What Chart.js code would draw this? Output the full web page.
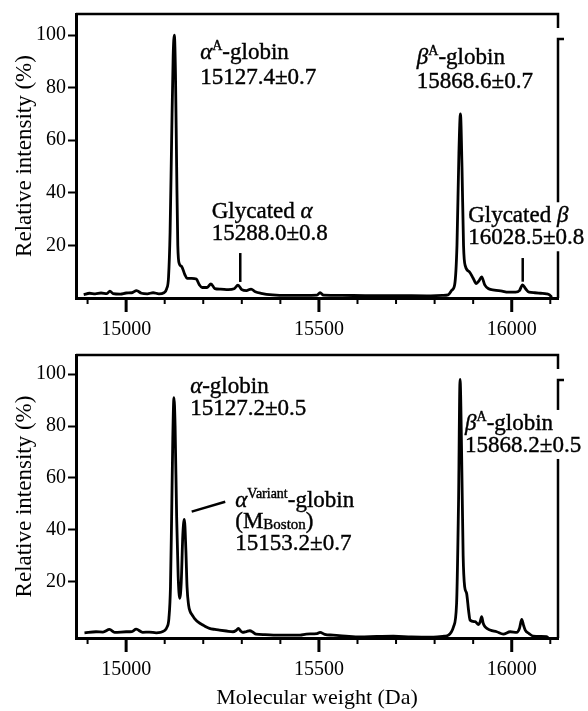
<!DOCTYPE html>
<html lang="en">
<head>
  <meta charset="UTF-8" />
  <title>Globin mass spectra</title>
  <script src="https://cdn.jsdelivr.net/npm/chart.js"></script>
  <style>
    html, body { margin: 0; padding: 0; background: #fff; }
    canvas { position: absolute; left: 0; }
    #topChart { top: 0; }
    #bottomChart { top: 340px; }
  </style>
</head>
<body>
  <canvas id="topChart" width="588" height="340"></canvas>
  <canvas id="bottomChart" width="588" height="371"></canvas>

  <script>
    // upper spectrum (normal Hb)
    const topMass = [14890, 14905, 14920, 14935, 14950, 14958, 14966, 14985, 15000, 15015, 15027, 15040, 15055, 15070, 15085, 15098,
      15105, 15110, 15114, 15118, 15122, 15125, 15128, 15131, 15134, 15138, 15144, 15152, 15158, 15170, 15182, 15190, 15197,
      15210, 15220, 15230, 15245, 15265, 15280, 15290, 15300, 15312, 15324, 15335, 15350, 15380, 15420, 15460, 15495, 15503,
      15512, 15560, 15620, 15700, 15780, 15820, 15835, 15845, 15852, 15858, 15863, 15867, 15871, 15875, 15880, 15890, 15900,
      15908, 15915, 15922, 15930, 15940, 15955, 15975, 15990, 16010, 16020, 16028, 16036, 16045, 16060, 16075, 16090, 16098, 16104];
    const topIntensity = [1.3, 1.8, 1.6, 1.9, 1.7, 2.6, 1.7, 1.5, 1.9, 2.0, 2.8, 1.8, 1.6, 2.0, 1.6, 2.0,
      3.5, 8, 25, 60, 92, 100, 85, 50, 20, 13, 12, 9, 7.5, 7.5, 7.2, 5, 4,
      4, 5.4, 3.6, 3.4, 3.2, 3.5, 4.9, 3.2, 2.8, 3.4, 2.4, 1.8, 1.2, 1.0, 1.0, 1.1, 2.0,
      1.1, 1.0, 0.9, 0.9, 0.8, 1.0, 1.2, 3, 5, 20, 55, 70, 50, 20, 12, 10, 7.5,
      5.5, 6.5, 8, 5, 3.5, 3, 2.6, 2.2, 2.2, 2.8, 5, 3.5, 2.2, 2, 1.8, 1.6, 1.2, 0.3];

    // lower spectrum (Hb M Boston)
    const bottomMass = [14892, 14922, 14940, 14957, 14970, 15000, 15015, 15026, 15043, 15060, 15078, 15099, 15106, 15111, 15115,
      15118, 15121, 15124, 15127, 15131, 15135, 15139, 15143, 15147, 15151, 15155, 15158, 15162, 15166, 15172, 15177, 15188,
      15199, 15208, 15216, 15230, 15242, 15260, 15277, 15285, 15291, 15297, 15302, 15312, 15321, 15329, 15337, 15360, 15389,
      15432, 15451, 15467, 15495, 15503, 15515, 15537, 15570, 15607, 15650, 15693, 15740, 15797, 15825, 15836, 15849, 15857,
      15862, 15866, 15870, 15874, 15878, 15883, 15888, 15892, 15905, 15914, 15918, 15922, 15926, 15931, 15944, 15961, 15978,
      15996, 16013, 16020, 16026, 16031, 16035, 16045, 16056, 16075, 16090, 16095];
    const bottomIntensity = [0.3, 0.7, 0.6, 1.6, 0.5, 0.7, 0.8, 1.7, 0.5, 0.6, 0.3, 1.1, 2.5, 6, 18,
      45, 75, 91, 80, 45, 22, 13.6, 20, 38, 44, 32, 18, 11, 8.5, 7, 5.9, 4.3,
      3.3, 2.5, 2.0, 1.6, 1.35, 1.0, 0.7, 1.2, 2.0, 1.0, 0.5, 0.8, 1.1, 0.5, -0.2, -0.4, -0.6,
      -0.6, -0.6, -0.2, 0.0, 0.5, -0.3, -0.6, -1.0, -1.3, -1.1, -1.0, -1.3, -1.4, -1.0, -0.6, 2.6, 11.6,
      50, 98, 70, 30, 18, 15.5, 9, 5.2, 4.6, 3.5, 4.5, 6.5, 4, 2.6, 1.35, 0.7, -0.2,
      0.7, 0.5, 2, 5.5, 3, 1.35, 0, -1, -1.1, -1.2, -1.5];

    const massTicks = [14900, 15000, 15100, 15200, 15300, 15400, 15500, 15600, 15700, 15800, 15900, 16000, 16100];
    const massLabels = [15000, 15500, 16000];
    const intensityTicks = [20, 40, 60, 80, 100];

    // peak labels, placed in data units (Da, %)
    const topNotes = [
      { x: 15192, y: 90.9, gap: 25, lines: ['α^{A}-globin', '15127.4±0.7'] },
      { x: 15754, y: 89.0, gap: 24, lines: ['β^{A}-globin', '15868.6±0.7'] },
      { x: 15222, y: 30.3, gap: 22, lines: ['Glycated α', '15288.0±0.8'] },
      { x: 15887, y: 28.8, gap: 22, lines: ['Glycated β', '16028.5±0.8'], clear: true }
    ];
    const topLeaders = [
      { x1: 15296, y1: 17.1, x2: 15296, y2: 6.1 },
      { x1: 16028.5, y1: 15.2, x2: 16028.5, y2: 6.2 }
    ];
    const bottomNotes = [
      { x: 15166, y: 92.9, gap: 22, lines: ['α-globin', '15127.2±0.5'] },
      { x: 15283, y: 48.9, gap: 21.5, lines: ['α^{Variant}-globin', '(M_{Boston})', '15153.2±0.7'] },
      { x: 15879, y: 78.5, gap: 22, lines: ['β^{A}-globin', '15868.2±0.5'], clear: true }
    ];
    const bottomLeaders = [{ x1: 15170, y1: 47.0, x2: 15257, y2: 50.8 }];

    const FONT = '"Liberation Serif", "DejaVu Serif", serif';

    // split "α^{A}-globin" into runs: normal, greek (italic), sup, sub
    function parseRich(s) {
      const out = [];
      const re = /\^\{([^}]*)\}|_\{([^}]*)\}|([αβ])|([^αβ^_]+)/g;
      let m;
      while ((m = re.exec(s))) {
        if (m[1] !== undefined) out.push({ t: m[1], kind: 'sup' });
        else if (m[2] !== undefined) out.push({ t: m[2], kind: 'sub' });
        else if (m[3]) out.push({ t: m[3], kind: 'greek' });
        else out.push({ t: m[4], kind: 'normal' });
      }
      return out;
    }

    function runFont(kind) {
      if (kind === 'sup') return '14px ' + FONT;
      if (kind === 'sub') return '15px ' + FONT;
      if (kind === 'greek') return 'italic 23px ' + FONT;
      return '23px ' + FONT;
    }

    function drawRich(ctx, s, x, y, measureOnly) {
      let cx = x;
      parseRich(s).forEach(r => {
        ctx.font = runFont(r.kind);
        const dy = r.kind === 'sup' ? -9 : (r.kind === 'sub' ? 1 : 0);
        if (!measureOnly) {
          ctx.fillText(r.t, cx, y + dy);
          ctx.strokeText(r.t, cx, y + dy); // printed look is a bit heavier
        }
        cx += ctx.measureText(r.t).width;
      });
      return cx - x;
    }

    function makeDecor(notes, leaders) {
      return {
        id: 'decor',
        afterDraw(chart) {
          const ctx = chart.ctx;
          const xs = chart.scales.x, ys = chart.scales.y;
          const a = chart.chartArea;
          ctx.save();
          ctx.strokeStyle = '#000';
          ctx.fillStyle = '#000';

          // top edge and the broken right edge of the frame
          ctx.lineWidth = 2.5;
          ctx.beginPath();
          ctx.moveTo(a.left, a.top);
          ctx.lineTo(a.right, a.top);
          ctx.lineTo(a.right, a.top + 14);
          ctx.moveTo(a.right + 6, a.top + 25);
          ctx.lineTo(a.right, a.top + 25);
          ctx.lineTo(a.right, a.bottom);
          ctx.stroke();

          // x tick marks, long at labelled values
          xs.ticks.forEach(t => {
            const px = xs.getPixelForValue(t.value);
            const major = massLabels.includes(t.value);
            ctx.lineWidth = major ? 3 : 2;
            ctx.beginPath();
            ctx.moveTo(px, a.bottom);
            ctx.lineTo(px, a.bottom + (major ? 14 : 6));
            ctx.stroke();
          });

          // marker and pointer lines
          ctx.lineWidth = 2.5;
          leaders.forEach(l => {
            ctx.beginPath();
            ctx.moveTo(xs.getPixelForValue(l.x1), ys.getPixelForValue(l.y1));
            ctx.lineTo(xs.getPixelForValue(l.x2), ys.getPixelForValue(l.y2));
            ctx.stroke();
          });

          // peak labels
          ctx.textBaseline = 'alphabetic';
          ctx.textAlign = 'left';
          ctx.lineWidth = 0.4;
          notes.forEach(n => {
            const px = xs.getPixelForValue(n.x);
            const py = ys.getPixelForValue(n.y);
            if (n.clear) {
              const w = Math.max(...n.lines.map(s => drawRich(ctx, s, 0, 0, true)));
              ctx.fillStyle = '#fff';
              ctx.fillRect(px - 1, py - 20, w + 6, n.gap * (n.lines.length - 1) + 27);
              ctx.fillStyle = '#000';
            }
            n.lines.forEach((s, i) => drawRich(ctx, s, px, py + i * n.gap, false));
          });
          ctx.restore();
        }
      };
    }

    function makeChart(id, mass, intensity, yMin, yMax, padTop, xHeight, showXTitle, notes, leaders) {
      const ctx = document.getElementById(id).getContext('2d');
      return new Chart(ctx, {
        type: 'line',
        data: {
          datasets: [{
            data: mass.map((m, i) => ({ x: m, y: intensity[i] })),
            borderColor: '#000',
            borderWidth: 2.8,
            pointRadius: 0,
            cubicInterpolationMode: 'monotone',
            fill: false
          }]
        },
        options: {
          responsive: false,
          animation: false,
          layout: { padding: { left: 0, right: 30, top: padTop, bottom: 0 } },
          plugins: { legend: { display: false }, tooltip: { enabled: false } },
          scales: {
            x: {
              type: 'linear',
              min: 14870,
              max: 16120,
              afterBuildTicks: s => { s.ticks = massTicks.map(v => ({ value: v })); },
              afterFit: s => { s.height = xHeight; },
              grid: { drawOnChartArea: false, drawTicks: false },
              border: { display: true, color: '#000', width: 3 },
              ticks: {
                autoSkip: false, maxRotation: 0, minRotation: 0, padding: 20, color: '#000',
                font: { family: FONT, size: 20 },
                callback: v => massLabels.includes(v) ? String(v) : ''
              },
              title: {
                display: showXTitle, text: 'Molecular weight (Da)', color: '#000',
                font: { family: FONT, size: 22 }, padding: { top: 0, bottom: 0 }
              }
            },
            y: {
              min: yMin,
              max: yMax,
              afterBuildTicks: s => { s.ticks = intensityTicks.map(v => ({ value: v })); },
              afterFit: s => { s.width = 76; },
              grid: { drawOnChartArea: false, drawTicks: true, tickLength: 8, tickWidth: 2, tickColor: '#000' },
              border: { display: true, color: '#000', width: 3 },
              ticks: { padding: 2, color: '#000', font: { family: FONT, size: 20 } },
              title: {
                display: true, text: 'Relative intensity (%)', color: '#000',
                font: { family: FONT, size: 23 }, padding: { top: 11, bottom: 0 }
              }
            }
          }
        },
        plugins: [makeDecor(notes, leaders)]
      });
    }

    makeChart('topChart', topMass, topIntensity, 0, 108, 13, 42, false, topNotes, topLeaders);
    makeChart('bottomChart', bottomMass, bottomIntensity, -1.7, 107.4, 15, 73, true, bottomNotes, bottomLeaders);
  </script>
</body>
</html>
